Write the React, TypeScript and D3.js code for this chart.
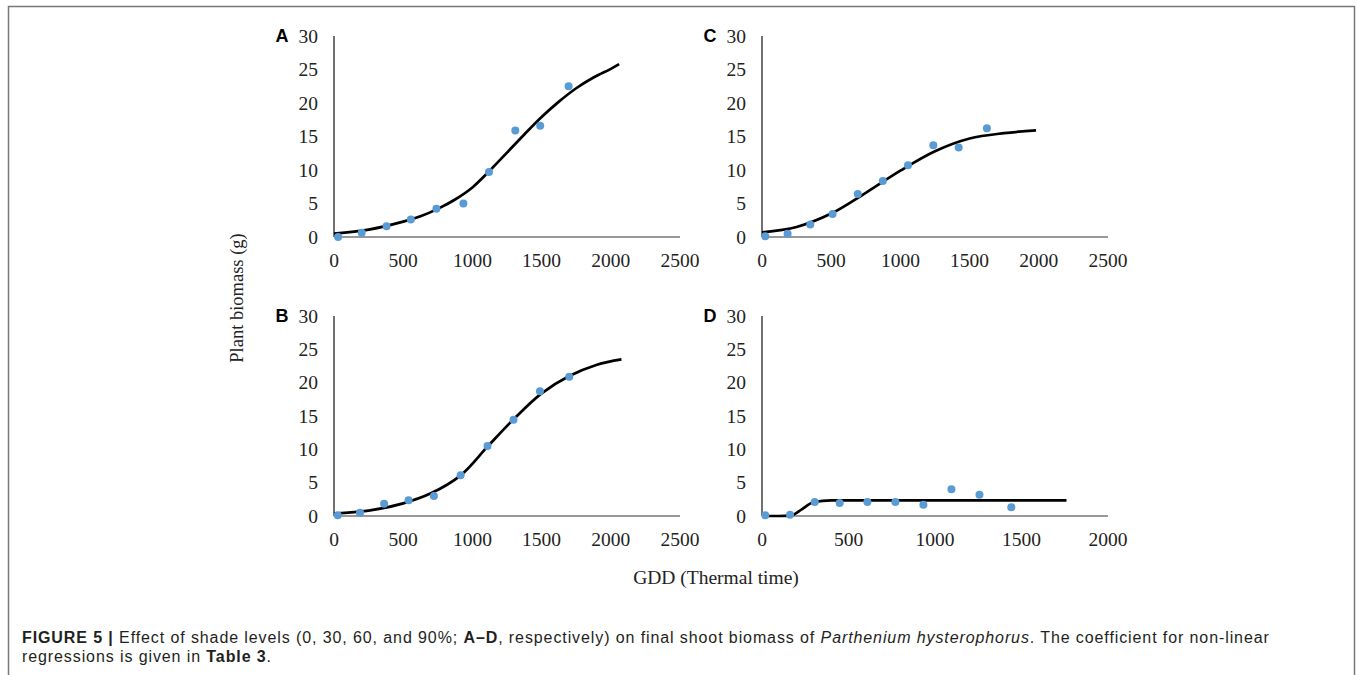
import * as d3 from "d3";

const gddA = [30, 200, 380, 555, 740, 935, 1120, 1310, 1490, 1695];
const biomassA = [0, 0.65, 1.6, 2.6, 4.2, 5.0, 9.7, 15.9, 16.6, 22.5];
const gddB = [27, 188, 362, 539, 722, 915, 1109, 1297, 1488, 1700];
const biomassB = [0.1, 0.5, 1.85, 2.35, 3.0, 6.1, 10.5, 14.45, 18.7, 20.9];
const gddC = [24, 185, 349, 510, 692, 873, 1055, 1238, 1421, 1625];
const biomassC = [0.1, 0.5, 1.85, 3.45, 6.4, 8.35, 10.7, 13.7, 13.35, 16.25];
const gddD = [19, 162, 305, 449, 609, 771, 933, 1095, 1257, 1441];
const biomassD = [0.1, 0.2, 2.1, 1.95, 2.1, 2.1, 1.7, 4.0, 3.2, 1.3];

// fitted curves, sampled from the figure
const fitGddA = [0, 250, 500, 625, 750, 875, 1000, 1125, 1250, 1375, 1500, 1625, 1750, 1875, 2000, 2060];
const fitA = [0.5, 1.1, 2.3, 3.1, 4.2, 5.6, 7.4, 9.9, 12.6, 15.3, 17.9, 20.2, 22.2, 23.8, 25.1, 25.8];
const fitGddB = [0, 250, 500, 700, 915, 1109, 1297, 1500, 1700, 1900, 2077];
const fitB = [0.35, 0.8, 1.9, 3.4, 6.1, 10.4, 14.5, 18.4, 21.0, 22.7, 23.5];
const fitGddC = [0, 250, 500, 750, 1000, 1250, 1500, 1750, 1980];
const fitC = [0.7, 1.5, 3.5, 6.6, 9.9, 12.8, 14.7, 15.5, 15.9];
const fitGddD = [0, 100, 170, 230, 300, 400, 1000, 1760];
const fitD = [0, 0, 0.1, 1.0, 2.1, 2.35, 2.35, 2.35];

const xTicks2500 = [0, 500, 1000, 1500, 2000, 2500];
const xTicks2000 = [0, 500, 1000, 1500, 2000];
const yTicks = [0, 5, 10, 15, 20, 25, 30];

const panels = [
  { id: "A", gdd: gddA, mass: biomassA, fx: fitGddA, fy: fitA, xMax: 2500, xt: xTicks2500, x0: 334, x1: 680, y0: 237, y1: 36, smooth: true },
  { id: "B", gdd: gddB, mass: biomassB, fx: fitGddB, fy: fitB, xMax: 2500, xt: xTicks2500, x0: 334, x1: 680, y0: 516, y1: 316, smooth: true },
  { id: "C", gdd: gddC, mass: biomassC, fx: fitGddC, fy: fitC, xMax: 2500, xt: xTicks2500, x0: 762, x1: 1108, y0: 237, y1: 36, smooth: true },
  { id: "D", gdd: gddD, mass: biomassD, fx: fitGddD, fy: fitD, xMax: 2000, xt: xTicks2000, x0: 762, x1: 1108, y0: 516, y1: 316, smooth: false },
];

const serif = "'Liberation Serif', 'Times New Roman', serif";
const sans = "'Liberation Sans', Arial, Helvetica, sans-serif";

function Panel({ p }: { p: (typeof panels)[number] }) {
  const x = d3.scaleLinear().domain([0, p.xMax]).range([p.x0, p.x1]);
  const y = d3.scaleLinear().domain([0, 30]).range([p.y0, p.y1]);
  const fit = p.fx.map((g, i) => [g, p.fy[i]] as [number, number]);
  const line = d3.line<[number, number]>()
    .x((d) => x(d[0]))
    .y((d) => y(d[1]))
    .curve(p.smooth ? d3.curveCatmullRom.alpha(0.5) : d3.curveMonotoneX);
  return (
    <g>
      <text x={p.x0 - 52} y={y(30) + 6} fontFamily={sans} fontWeight="bold" fontSize={18} textAnchor="middle" fill="#000">
        {p.id}
      </text>
      <line x1={p.x0} x2={p.x0} y1={y(30)} y2={y(0)} stroke="#111" strokeWidth={1.2} />
      <line x1={p.x0} x2={p.x1} y1={y(0)} y2={y(0)} stroke="#333" strokeWidth={1.2} />
      {yTicks.map((t) => (
        <text key={t} x={p.x0 - 16} y={y(t)} dy="0.35em" textAnchor="end" fontFamily={serif} fontSize={19.5} fill="#222">
          {t}
        </text>
      ))}
      {p.xt.map((t) => (
        <text key={t} x={x(t)} y={y(0) + 23} dy="0.35em" textAnchor="middle" fontFamily={serif} fontSize={19.5} fill="#222">
          {t}
        </text>
      ))}
      <path d={line(fit) || ""} fill="none" stroke="#000" strokeWidth={2.7} />
      {p.gdd.map((g, i) => (
        <circle key={i} cx={x(g)} cy={y(p.mass[i])} r={4} fill="#5b9bd5" />
      ))}
    </g>
  );
}

export default function App() {
  return (
    <div style={{ position: "absolute", left: 0, top: 0 }}>
      <svg width={1357} height={675} viewBox="0 0 1357 675" style={{ display: "block", background: "#fff" }}>
        <rect x={8.5} y={6.5} width={1346} height={680} fill="none" stroke="#777" strokeWidth={1.5} />
        {panels.map((p) => (
          <Panel key={p.id} p={p} />
        ))}
        <text transform="translate(243,298) rotate(-90)" textAnchor="middle" fontFamily={serif} fontSize={18.5} fill="#222">
          Plant biomass (g)
        </text>
        <text x={716} y={584} textAnchor="middle" fontFamily={serif} fontSize={19.5} fill="#222">
          GDD (Thermal time)
        </text>
        <text x={22} y={643} fontFamily={sans} fontSize={16} letterSpacing={0.9} fill="#231f20">
          <tspan fontWeight="bold">FIGURE 5 | </tspan>
          <tspan>Effect of shade levels (0, 30, 60, and 90%; </tspan>
          <tspan fontWeight="bold">A–D</tspan>
          <tspan>, respectively) on final shoot biomass of </tspan>
          <tspan fontStyle="italic">Parthenium hysterophorus</tspan>
          <tspan>. The coefficient for non-linear</tspan>
        </text>
        <text x={22} y={662} fontFamily={sans} fontSize={16} letterSpacing={0.9} fill="#231f20">
          <tspan>regressions is given in </tspan>
          <tspan fontWeight="bold">Table 3</tspan>
          <tspan>.</tspan>
        </text>
      </svg>
    </div>
  );
}
